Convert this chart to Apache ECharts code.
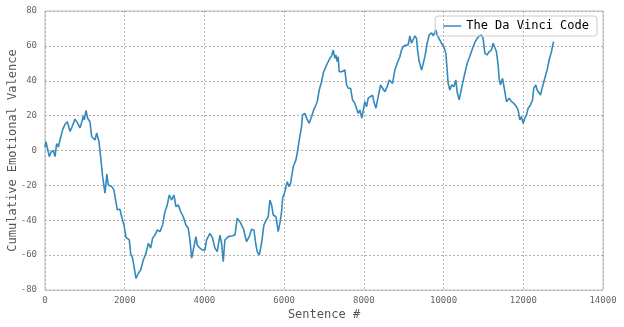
<!DOCTYPE html>
<html><head><meta charset="utf-8">
<script src="https://cdn.jsdelivr.net/npm/echarts@6/dist/echarts.min.js"></script>
<style>html,body{margin:0;padding:0;background:#fff}#c{width:624px;height:327px}</style>
</head><body><div id="c"></div>
<script>
const seriesName = "The Da Vinci Code";
const xTicks = [0,2000,4000,6000,8000,10000,12000,14000];
const yTicks = [-80,-60,-40,-20,0,20,40,60,80];
const sentence = [0,25,60,108,150,209,251,293,335,376,443,502,560,627,669,752,811,878,920,961,986,1028,1070,1129,1170,1212,1254,1296,1354,1396,1446,1505,1530,1550,1590,1672,1730,1756,1814,1881,1923,1981,2031,2115,2149,2199,2240,2282,2341,2400,2466,2533,2592,2650,2701,2759,2817,2884,2951,3010,3068,3118,3177,3235,3285,3344,3403,3469,3536,3594,3637,3679,3737,3787,3820,3887,3950,4013,4055,4138,4205,4264,4322,4389,4431,4472,4514,4598,4682,4765,4823,4890,4974,5058,5124,5183,5242,5292,5325,5375,5434,5493,5543,5601,5643,5685,5727,5794,5852,5900,5936,5961,6019,6077,6127,6162,6187,6228,6295,6328,6378,6437,6462,6521,6563,6629,6688,6746,6797,6830,6880,6939,6980,7022,7064,7106,7148,7190,7231,7273,7298,7331,7356,7381,7440,7482,7524,7566,7607,7666,7716,7775,7817,7858,7900,7950,7984,8026,8068,8109,8151,8219,8252,8302,8335,8385,8420,8470,8527,8586,8636,8680,8720,8778,8836,8903,8945,8986,9054,9110,9154,9196,9238,9280,9322,9347,9388,9447,9470,9531,9589,9639,9698,9740,9806,9840,9889,9949,10007,10057,10090,10115,10157,10200,10258,10308,10340,10391,10425,10476,10534,10592,10659,10727,10784,10843,10893,10952,10993,11035,11090,11143,11200,11244,11286,11327,11369,11394,11429,11479,11537,11579,11646,11705,11763,11830,11871,11913,11955,11997,12040,12081,12121,12181,12231,12264,12314,12348,12398,12432,12482,12540,12598,12648,12707,12748,12765];
const valence = [2,5,6,-3.5,-1,0,-3.5,4,2,6,12,15,16.5,11,13,18,16,13,16,20,17.5,23,18.5,16.5,8,9,6,10,5,-3.5,-15,-24.5,-18.7,-13.5,-19.8,-20.7,-22.6,-26.5,-34,-33.7,-38,-42.7,-49.8,-51.3,-59,-61.8,-67.5,-73.3,-70.4,-68.5,-62.8,-59,-53.2,-56,-50.3,-48.5,-45.6,-46.5,-42.7,-35,-31.2,-25.5,-28.4,-25.5,-32.2,-31.2,-35,-38,-42.7,-44.6,-51.3,-61.8,-55.2,-49.4,-54.2,-56,-57,-57,-51.3,-47.5,-50.3,-56,-58,-48.5,-53.2,-63.8,-51.3,-49.4,-49,-48.5,-38.9,-40.8,-44.6,-52.3,-49.4,-45.2,-45.6,-54.2,-58,-60,-53.2,-42.7,-40.2,-38,-28.4,-31.2,-37,-38,-46.5,-40.8,-35,-27.4,-23.6,-17.9,-20.7,-18.8,-19.8,-9.3,-5.4,-1.6,6,13.7,20.4,21.3,18.5,15.6,19.4,23.6,26.1,28,34.7,39.4,44.3,45.2,49,50,52.9,54.2,57.6,52.9,54.8,51,53.8,45.2,45.2,44.3,46.2,37.6,35.7,35.7,29,27,28,21.3,23.2,18.5,23.2,28,25.1,30,29,31.8,28,24.2,28,33.7,37.6,35.7,33.7,36.6,40.4,40.4,38.5,46.2,50,53.8,57.6,59.5,60.5,60.5,65.7,61.5,62.4,65.7,64.3,57.6,51,46.2,48,53.8,61.5,66.2,67.5,65.7,69.1,66.2,65.3,61.5,59.5,55.7,46.2,38.5,34.7,37.6,36.6,40.4,33.7,29,32.8,38.5,44.3,50,54,58.5,62,64.3,65.7,66.2,64.3,55.7,54.8,56.6,57.6,61.5,62.4,56.6,49,41.4,37.6,41.4,33.7,28,30,28,27,25.1,23.2,17.5,19.4,15.6,18.5,20.4,24.2,26.1,29,35.7,37.6,34.7,33.7,31.8,36.6,41.4,46.2,51.9,56.6,61.5,62.4];

const data = sentence.map((s,i)=>[s, valence[i]]);
const font = "DejaVu Sans Mono";
const chart = echarts.init(document.getElementById('c'), null, {renderer:'canvas'});
chart.setOption({
  animation:false,
  backgroundColor:'#fff',
  grid:{left:45,right:21,top:11,bottom:37,containLabel:false,outerBoundsMode:'none',show:true,borderColor:'#bcbcbc',borderWidth:1},
  legend:{
    data:[seriesName], right:27, top:16, orient:'horizontal',
    icon:'rect', itemWidth:18, itemHeight:1.5, itemGap:10,
    borderColor:'#cccccc', borderWidth:1, borderRadius:3,
    padding:[4,8,4,8],
    textStyle:{fontFamily:font,fontSize:12,color:'#000'}
  },
  xAxis:{
    type:'value', min:xTicks[0], max:xTicks[xTicks.length-1], interval:2000,
    name:'Sentence #', nameLocation:'middle', nameGap:19, nameMoveOverlap:false,
    nameTextStyle:{fontFamily:font,fontSize:12,color:'#555'},
    axisLine:{show:false}, axisTick:{show:false},
    axisLabel:{fontFamily:font,fontSize:9,color:'#666',margin:6,formatter:v=>String(v)},
    splitLine:{show:true,lineStyle:{color:'#b0b0b0',type:[2,2],width:1}}
  },
  yAxis:{
    type:'value', min:yTicks[0], max:yTicks[yTicks.length-1], interval:20,
    name:'Cumulative Emotional Valence', nameLocation:'middle', nameGap:26, nameMoveOverlap:false,
    nameTextStyle:{fontFamily:font,fontSize:12,color:'#555'},
    axisLine:{show:false}, axisTick:{show:false},
    axisLabel:{fontFamily:font,fontSize:9,color:'#666',margin:8,formatter:v=>String(v)},
    splitLine:{show:true,lineStyle:{color:'#b0b0b0',type:[2,2],width:1}}
  },
  series:[{
    name:seriesName, type:'line', data:data, showSymbol:false, symbol:'none',
    lineStyle:{color:'#348ABD',width:1.6}, itemStyle:{color:'#348ABD'}
  }]
});
</script></body></html>
